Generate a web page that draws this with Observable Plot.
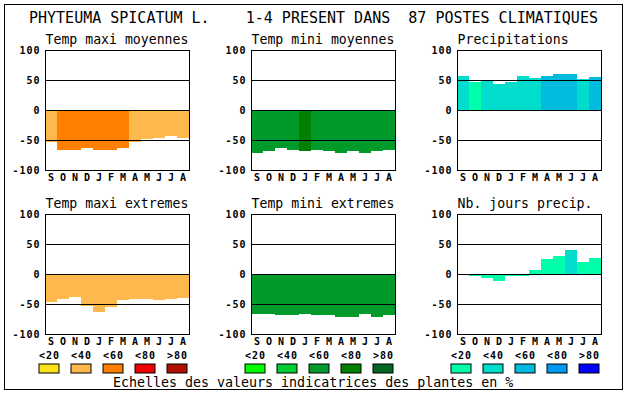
<!DOCTYPE html>
<html><head><meta charset="utf-8">
<script src="https://cdn.jsdelivr.net/npm/d3@7"></script>
<script src="https://cdn.jsdelivr.net/npm/@observablehq/plot@0.6"></script>
<style>
html,body{margin:0;padding:0;background:#fff;}
#root{position:relative;width:630px;height:394px;overflow:hidden;background:#fff;}
#border{position:absolute;left:4px;top:4px;width:619px;height:386px;border:1px solid #000;box-sizing:border-box;}
.txt{position:absolute;font-family:"DejaVu Sans Mono",monospace;white-space:pre;line-height:1;color:#000;}
.wrap{position:absolute;}
.panel text,.legend text{letter-spacing:1px;}
.panel g[aria-label="text"] text{letter-spacing:0;}
</style></head>
<body><div id="root"><div id="border"></div></div>
<script>
// ---- data ----
const months = ["S","O","N","D","J","F","M","A","M","J","J","A"];
const yTicks = [-100, -50, 0, 50, 100];
const gridLines = [50, 0, -50];
const legendLabels = ["<20", "<40", "<60", "<80", ">80"];

const mainTitle = "PHYTEUMA SPICATUM L.    1-4 PRESENT DANS  87 POSTES CLIMATIQUES";
const footer = "Echelles des valeurs indicatrices des plantes en %";

const titles = ["Temp maxi moyennes", "Temp mini moyennes", "Precipitations",
                "Temp maxi extremes", "Temp mini extremes", "Nb. jours precip."];

const tmaxMoy      = [-54, -66, -66, -64, -66, -66, -64, -54, -48, -46, -43, -46];
const tmaxMoyClass = [1, 2, 2, 2, 2, 2, 2, 1, 1, 1, 1, 1];
const tminMoy      = [-71, -68, -63, -66, -68, -66, -68, -71, -68, -71, -68, -66];
const tminMoyClass = [2, 2, 2, 2, 3, 2, 2, 2, 2, 2, 2, 2];
const precip       = [57, 46, 49, 44, 46, 57, 53, 57, 60, 60, 52, 55];
const precipClass  = [1, 0, 1, 1, 1, 1, 1, 2, 2, 2, 1, 2];
const tmaxExt      = [-47, -42, -38, -54, -63, -55, -44, -42, -42, -44, -42, -40];
const tmaxExtClass = [1, 1, 1, 1, 1, 1, 1, 1, 1, 1, 1, 1];
const tminExt      = [-66, -66, -68, -68, -66, -68, -68, -71, -71, -66, -71, -68];
const tminExtClass = [2, 2, 2, 2, 2, 2, 2, 2, 2, 2, 2, 2];
const nbJours      = [0, -3, -6, -11, -3, -3, 7, 25, 30, 40, 20, 27];
const nbJoursClass = [0, 0, 0, 0, 0, 0, 0, 0, 0, 1, 0, 0];

const oranges = ["#FAE31C", "#FFB84D", "#FF8000", "#EE0000", "#B01000"];
const greens  = ["#00FF00", "#00CC33", "#009A2A", "#007F00", "#006622"];
const blues   = ["#00FFAA", "#00DDCC", "#00BBDD", "#0099EE", "#0000FF"];

// ---- layout ----
const root = document.getElementById("root");
const colLeft = [45, 251, 457];   // plot-frame left edges
const rowTop = [50, 214];         // plot-frame top edges
const baseStyle = {fontFamily: '"DejaVu Sans Mono", monospace', fontSize: "10px", fontWeight: "bold",
                   background: "transparent", overflow: "visible", color: "#000"};

function place(node, cls, left, top) {
  const w = document.createElement("div");
  w.className = "wrap " + cls;
  w.style.left = left + "px";
  w.style.top = top + "px";
  w.appendChild(node);
  root.appendChild(w);
}

function panel(title, values, classes, palette, col, row) {
  const data = values.map((v, i) => ({i, v, c: classes[i]}));
  const svg = Plot.plot({
    width: 190, height: 156,
    marginLeft: 40, marginRight: 6, marginTop: 20, marginBottom: 16,
    style: baseStyle,
    x: {type: "band", domain: d3.range(12), padding: 0, tickSize: 0, tickPadding: 3,
        tickFormat: i => months[i], label: null},
    y: {domain: [-100, 100], ticks: yTicks, tickSize: 0, tickPadding: 5,
        tickFormat: d => String(d), label: null},
    color: {type: "ordinal", domain: d3.range(5), range: palette},
    marks: [
      Plot.barY(data, {x: "i", y: "v", fill: "c", shapeRendering: "crispEdges"}),
      Plot.ruleY(gridLines, {stroke: "#000", strokeWidth: 1}),
      Plot.frame({stroke: "#000"}),
      Plot.text([title], {text: d => d, frameAnchor: "top-left", textAnchor: "start",
        lineAnchor: "bottom", dy: -7, fontSize: 13.2, fontWeight: "normal"})
    ]
  });
  place(svg, "panel", colLeft[col] - 40, rowTop[row] - 20);
}

function legend(palette, col) {
  const cls = d3.range(5);
  const svg = Plot.plot({
    width: 160, height: 30,
    marginLeft: 0, marginRight: 0, marginTop: 19, marginBottom: 2,
    style: baseStyle,
    x: {type: "band", domain: cls, padding: 0, axis: null},
    color: {type: "ordinal", domain: cls, range: palette},
    marks: [
      Plot.cell(cls, {x: d => d, fill: d => d, stroke: "#000", insetLeft: 6, insetRight: 6}),
      Plot.text(cls, {x: d => d, text: d => legendLabels[d], frameAnchor: "top",
        lineAnchor: "bottom", dy: -6})
    ]
  });
  place(svg, "legend", colLeft[col] - 12, 345);
}

panel(titles[0], tmaxMoy, tmaxMoyClass, oranges, 0, 0);
panel(titles[1], tminMoy, tminMoyClass, greens, 1, 0);
panel(titles[2], precip, precipClass, blues, 2, 0);
panel(titles[3], tmaxExt, tmaxExtClass, oranges, 0, 1);
panel(titles[4], tminExt, tminExtClass, greens, 1, 1);
panel(titles[5], nbJours, nbJoursClass, blues, 2, 1);

legend(oranges, 0);
legend(greens, 1);
legend(blues, 2);

function addText(str, size, left, top) {
  const d = document.createElement("div");
  d.className = "txt";
  d.style.fontSize = size + "px";
  d.style.left = left + "px";
  d.style.top = top + "px";
  d.textContent = str;
  root.appendChild(d);
}
addText(mainTitle, 15, 29, 11);
addText(footer, 13.3, 113, 376);
</script>
</body></html>
